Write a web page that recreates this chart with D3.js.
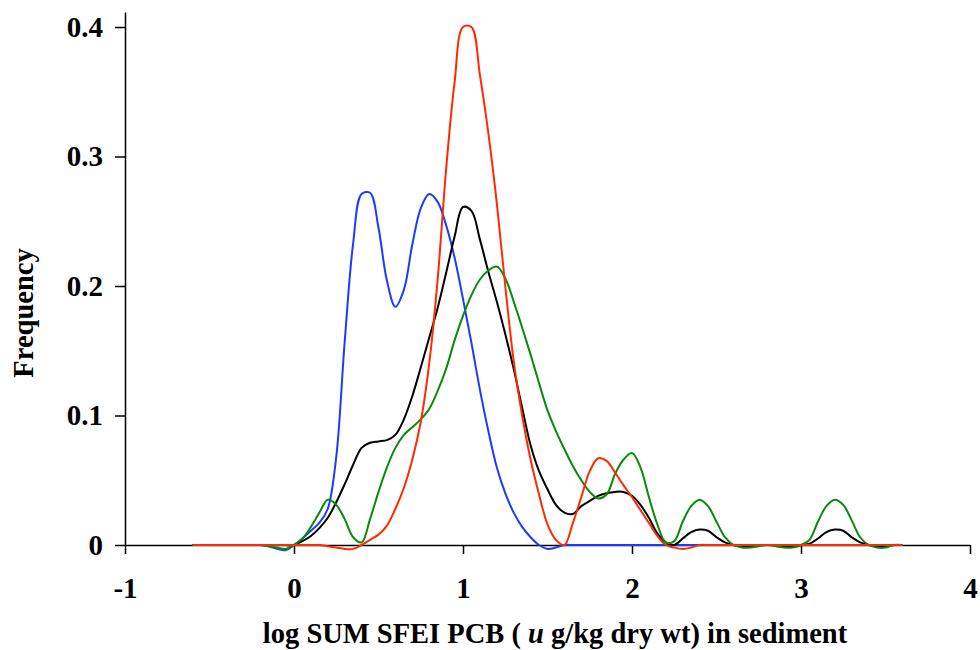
<!DOCTYPE html>
<meta charset="utf-8">
<head>
<style>
  body { margin: 0; background: #fff; }
  #chart { display: block; }
  .axis text { font-family: "Liberation Serif", "Times New Roman", serif; font-weight: bold; font-size: 29px; fill: #000; }
  .axis path, .axis line { stroke: #000; stroke-width: 1.5px; }
  .label { font-family: "Liberation Serif", "Times New Roman", serif; font-weight: bold; font-size: 28.5px; fill: #000; }
  .curve { fill: none; stroke-width: 2px; stroke-linejoin: round; }
</style>
</head>
<body>
<svg id="chart"></svg>
<script src="https://d3js.org/d3.v7.min.js"></script>
<script>

// sample positions (log units) shared by all four curves
var xs = [-0.6, -0.55, -0.5, -0.45, -0.4, -0.35, -0.3, -0.25, -0.2, -0.15, -0.1, -0.05,
  0, 0.05, 0.1, 0.15, 0.2, 0.25, 0.3, 0.35, 0.4, 0.45, 0.5, 0.55,
  0.6, 0.65, 0.7, 0.75, 0.8, 0.85, 0.9, 0.95, 1.0, 1.05, 1.1, 1.15,
  1.2, 1.25, 1.3, 1.35, 1.4, 1.45, 1.5, 1.55, 1.6, 1.65, 1.7, 1.75,
  1.8, 1.85, 1.9, 1.95, 2.0, 2.05, 2.1, 2.15, 2.2, 2.25, 2.3, 2.35,
  2.4, 2.45, 2.5, 2.55, 2.6, 2.65, 2.7, 2.75, 2.8, 2.85, 2.9, 2.95,
  3.0, 3.05, 3.1, 3.15, 3.2, 3.25, 3.3, 3.35, 3.4, 3.45, 3.5, 3.55, 3.6];

var blueVals = [0, 0, 0, 0, 0, 0, 0, 0, 0, -0.001, -0.003, -0.004,
  0, 0.005, 0.011, 0.017, 0.028, 0.068, 0.157, 0.233, 0.271, 0.272, 0.245, 0.204,
  0.184, 0.197, 0.232, 0.26, 0.271, 0.265, 0.247, 0.222, 0.19, 0.156, 0.12, 0.088,
  0.06, 0.04, 0.025, 0.014, 0.006, 0, -0.003, -0.002, 0, 0, 0, 0,
  0, 0, 0, 0, 0, 0, 0, 0, 0, 0, 0, 0,
  0, 0, 0, 0, 0, 0, 0, 0, 0, 0, 0, 0,
  0, 0, 0, 0, 0, 0, 0, 0, 0, 0, 0, 0, 0];

var blackVals = [0, 0, 0, 0, 0, 0, 0, 0, 0, 0, 0, 0,
  0, 0.003, 0.007, 0.013, 0.021, 0.033, 0.047, 0.062, 0.075, 0.079, 0.08, 0.081,
  0.085, 0.097, 0.115, 0.137, 0.16, 0.183, 0.21, 0.238, 0.261, 0.258, 0.236, 0.211,
  0.188, 0.163, 0.136, 0.106, 0.077, 0.057, 0.043, 0.031, 0.025, 0.024, 0.03, 0.034,
  0.038, 0.04, 0.041, 0.041, 0.038, 0.031, 0.021, 0.009, 0.002, 0, 0.005, 0.01,
  0.012, 0.011, 0.006, 0.002, 0, -0.001, -0.001, 0, 0, 0, -0.001, -0.001,
  0, 0.001, 0.005, 0.01, 0.012, 0.011, 0.006, 0.002, 0, -0.001, -0.001, 0, 0];

var greenVals = [0, 0, 0, 0, 0, 0, 0, 0, 0, -0.001, -0.002, -0.003,
  0, 0.005, 0.014, 0.025, 0.035, 0.031, 0.02, 0.006, 0.002, 0.02, 0.041, 0.06,
  0.075, 0.085, 0.091, 0.097, 0.105, 0.119, 0.136, 0.158, 0.177, 0.193, 0.205, 0.212,
  0.215, 0.206, 0.188, 0.168, 0.147, 0.125, 0.104, 0.088, 0.074, 0.061, 0.05, 0.041,
  0.036, 0.039, 0.055, 0.066, 0.071, 0.06, 0.037, 0.016, 0.002, 0.003, 0.018, 0.03,
  0.035, 0.03, 0.018, 0.006, 0, -0.002, -0.002, -0.001, 0, -0.001, -0.002, -0.002,
  0, 0.004, 0.018, 0.03, 0.035, 0.031, 0.019, 0.006, 0, -0.002, -0.002, 0, 0];

var redVals = [0, 0, 0, 0, 0, 0, 0, 0, 0, 0, 0, 0,
  0, 0, 0, 0, -0.001, -0.002, -0.003, -0.003, 0, 0.004, 0.008, 0.015,
  0.028, 0.044, 0.066, 0.095, 0.14, 0.205, 0.29, 0.357, 0.4, 0.4, 0.363, 0.318,
  0.264, 0.2, 0.142, 0.1, 0.066, 0.039, 0.016, 0.004, 0, 0.017, 0.037, 0.057,
  0.067, 0.065, 0.056, 0.046, 0.037, 0.027, 0.017, 0.007, 0, -0.002, -0.003, -0.002,
  0, 0, 0, 0, 0, 0, 0, 0, 0, 0, 0, 0,
  0, 0, 0, 0, 0, 0, 0, 0, 0, 0, 0, 0, 0];

var xTicks = [-1, 0, 1, 2, 3, 4];
var yTicks = [0, 0.1, 0.2, 0.3, 0.4];

var width = 980, height = 650;

var svg = d3.select("#chart")
    .attr("width", width)
    .attr("height", height);

var x = d3.scaleLinear()
    .domain([-1, 4])
    .range([125, 970]);

// axis line runs a little above the 0.4 tick
var y = d3.scaleLinear()
    .domain([0, 0.4116])
    .range([545, 12]);

var xAxis = d3.axisBottom(x)
    .tickValues(xTicks)
    .tickFormat(function(d) { return String(d); })
    .tickSize(9)
    .tickSizeOuter(0)
    .tickPadding(23);

var yAxis = d3.axisLeft(y)
    .tickValues(yTicks)
    .tickFormat(function(d) { return d === 0 ? "0" : d3.format(".1f")(d); })
    .tickSize(10)
    .tickSizeOuter(0)
    .tickPadding(12);

svg.append("g")
    .attr("class", "x axis")
    .attr("transform", "translate(0," + y(0) + ")")
    .call(xAxis);

svg.append("g")
    .attr("class", "y axis")
    .attr("transform", "translate(" + x(-1) + ",0)")
    .call(yAxis);

var line = d3.line()
    .x(function(d) { return x(d[0]); })
    .y(function(d) { return y(d[1]); })
    .curve(d3.curveCatmullRom.alpha(0.5));

var series = [
  {name: "blue", color: "#1a3cff", vals: blueVals},
  {name: "black", color: "#000000", vals: blackVals},
  {name: "green", color: "#0a8a0a", vals: greenVals},
  {name: "red", color: "#ff2a00", vals: redVals}
];

svg.selectAll(".curve")
    .data(series)
  .enter().append("path")
    .attr("class", "curve")
    .attr("stroke", function(s) { return s.color; })
    .attr("d", function(s) { return line(xs.map(function(v, i) { return [v, s.vals[i]]; })); });

// axis titles
var xTitle = svg.append("text")
    .attr("class", "label")
    .attr("x", 555)
    .attr("y", 643)
    .attr("text-anchor", "middle");
xTitle.append("tspan").text("log SUM SFEI PCB ( ");
xTitle.append("tspan").style("font-style", "italic").text("u");
xTitle.append("tspan").text(" g/kg dry wt) in sediment");

svg.append("text")
    .attr("class", "label")
    .attr("transform", "translate(33,313) rotate(-90)")
    .attr("text-anchor", "middle")
    .text("Frequency");

</script>
</body>
